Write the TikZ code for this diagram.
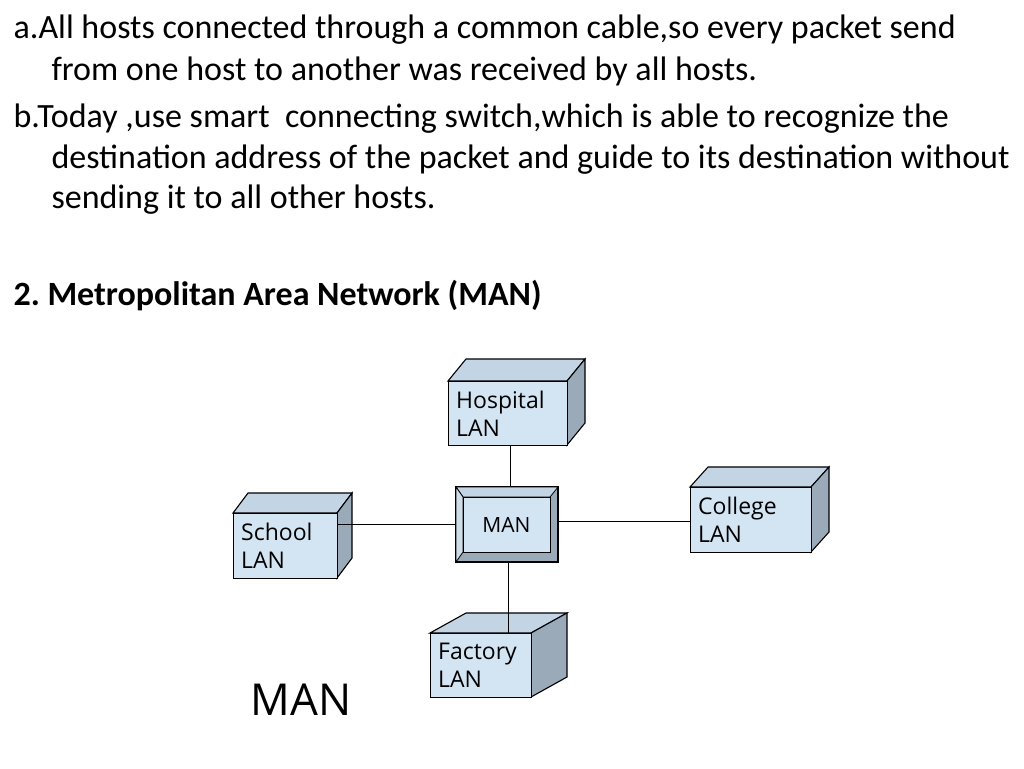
\documentclass[tikz,border=0pt]{standalone}
\usepackage{fontspec}
\setmainfont{Carlito}
\newfontfamily\boxfont{Open Sans}
\definecolor{lanfront}{HTML}{D3E4F3}
\definecolor{lantop}{HTML}{C3D4E4}
\definecolor{lanside}{HTML}{9AAAB9}
\frenchspacing
\begin{document}
\begin{tikzpicture}
[
x=1pt, y=1pt,
lan/.style={draw, line width=1.1pt, fill=lanfront, align=left, anchor=north west,
  inner sep=0, text width=#1, minimum height=64pt, font=\boxfont\fontsize{23}{28}\selectfont},
txt/.style={anchor=base west, font=\fontsize{34}{40}\selectfont}
]
\useasboundingbox (0,0) rectangle (1024,-768);
% text
\node[txt] (t1) at (10,-38) {a.All hosts connected through a common cable,so every packet send};
\node[txt] (t2) at (48,-80) {from one host to another was received by all hosts.};
\node[txt] (t3) at (10,-127) {b.Today ,use smart\ \ connecting switch,which is able to recognize the};
\node[txt] (t4) at (48,-168) {destination address of the packet and guide to its destination without};
\node[txt] (t5) at (48,-208) {sending it to all other hosts.};
\node[txt, font=\bfseries\fontsize{34}{40}\selectfont] (h) at (10,-305) {2. Metropolitan Area Network (MAN)};
% boxes
\foreach \n/\x/\y/\w/\h/\dx/\dy/\t in {hosp/448/381/119/64/18/22/{\ Hospital\\\ LAN},
  school/233/513/104/65/15/20/{\ School\\\ LAN},
  college/690/487/121/65/18/20/{\ College\\\ LAN},
  factory/430/633/101/64/36/20/{\ Factory\\\ LAN}}
{
  \draw[line width=1.1pt, fill=lantop] (\x,-\y) -- ++(\dx,\dy) -- ++(\w,0) -- ++(-\dx,-\dy) -- cycle;
  \draw[line width=1.1pt, fill=lanside] (\x+\w,-\y) -- ++(\dx,\dy) -- ++(0,-\h) -- ++(-\dx,-\dy) -- cycle;
  \node[lan=\w pt, minimum height=\h pt] (\n) at (\x,-\y) {\t};
}
% MAN switch
\draw[line width=1.1pt, fill=lanside] (456,-487) rectangle (558,-562);
\draw[line width=0.8pt, fill=lantop] (456,-487) -- (558,-487) -- (550,-497) -- (463,-497) -- cycle;
\draw[line width=0.8pt, fill=lantop!80!white] (456,-487) -- (463,-497) -- (463,-552) -- (456,-562) -- cycle;
\node[draw, line width=0.8pt, fill=lanfront, minimum width=87pt, minimum height=55pt, inner sep=0,
  font=\boxfont\fontsize{21}{25}\selectfont] (man) at (506.5,-524.5) {MAN\hspace{26pt}};
% links
\draw[line width=0.9pt] (hosp.south -| 510,0) -- (510,-487);
\draw[line width=0.9pt] (school.east |- 0,-524) -- (456,-524);
\draw[line width=0.9pt] (558,-521) -- (college.west |- 0,-521);
\draw[line width=0.9pt] (508,-562) -- (508,-633);
\node[font=\boxfont\fontsize{44}{50}\selectfont] (title) at (301,-700) {MAN};
\end{tikzpicture}
\end{document}
